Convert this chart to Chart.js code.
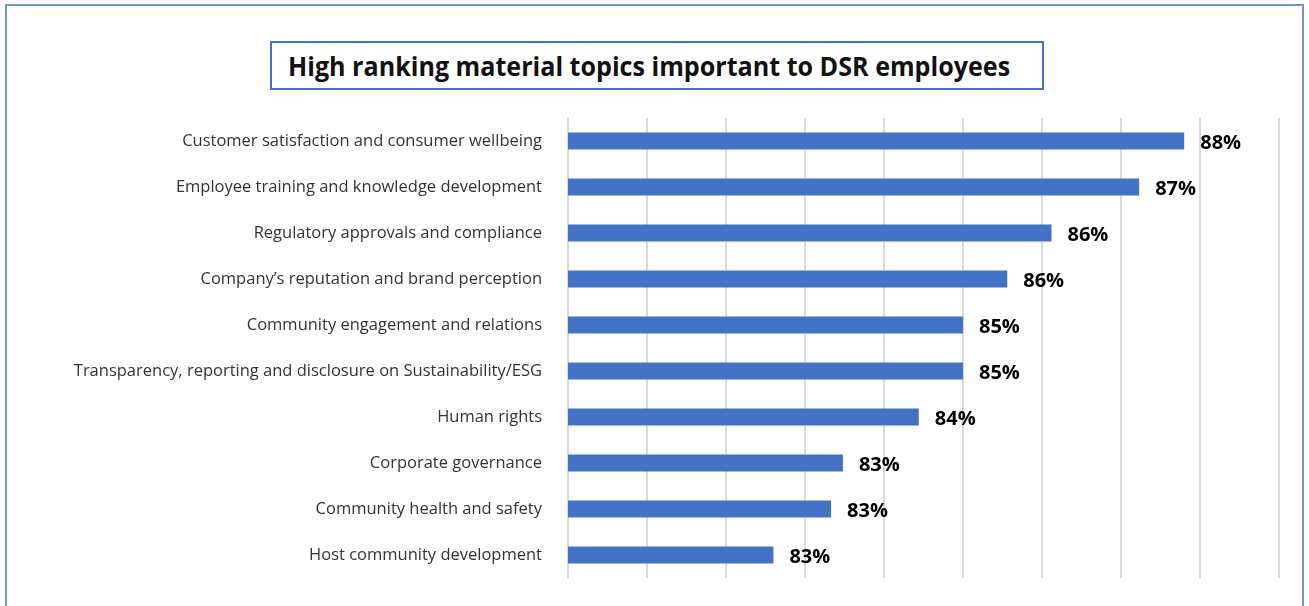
<!DOCTYPE html>
<html>
<head>
<meta charset="utf-8">
<script src="https://cdn.jsdelivr.net/npm/chart.js@4"></script>
<style>
  html, body { margin: 0; padding: 0; background: #fff; overflow: hidden; }
  #wrap { position: relative; width: 1309px; height: 606px; }
  #frame {
    position: absolute; left: 5px; top: 4px; width: 1299px; height: 700px;
    border: 2px solid #7394d4; box-sizing: border-box;
  }
  #title {
    position: absolute; left: 270px; top: 41px; width: 774px; height: 49px;
    border: 2px solid #4472c4; box-sizing: border-box;
  }
  #title span {
    position: absolute; left: 16px; top: 0;
    font-family: "Open Sans", sans-serif; font-weight: bold; font-size: 27px;
    color: #111; line-height: 45px; white-space: nowrap;
    transform: scaleX(0.93); transform-origin: left center;
  }
  canvas { position: absolute; left: 0; top: 0; }
</style>
</head>
<body>
<div id="wrap">
  <div id="frame"></div>
  <div id="title"><span>High ranking material topics important to DSR employees</span></div>
  <canvas id="topicsChart" width="1309" height="606"></canvas>
</div>
<script>
const topics = [
  'Customer satisfaction and consumer wellbeing',
  'Employee training and knowledge development',
  'Regulatory approvals and compliance',
  'Company\u2019s reputation and brand perception',
  'Community engagement and relations',
  'Transparency, reporting and disclosure on Sustainability/ESG',
  'Human rights',
  'Corporate governance',
  'Community health and safety',
  'Host community development'
];
const shares = [87.8, 87.23, 86.12, 85.56, 85.0, 85.0, 84.44, 83.48, 83.33, 82.6];
const axisMin = 80;
const axisMax = 89;

// percentage label at the end of each bar
const barLabels = {
  id: 'barLabels',
  afterDatasetsDraw(chart) {
    const ctx = chart.ctx;
    const meta = chart.getDatasetMeta(0);
    ctx.save();
    ctx.font = 'bold 20px "Open Sans", sans-serif';
    ctx.fillStyle = '#000';
    ctx.textBaseline = 'middle';
    ctx.textAlign = 'left';
    meta.data.forEach((bar, i) => {
      ctx.fillText(Math.round(shares[i]) + '%', bar.x + 16, bar.y + 2);
    });
    ctx.restore();
  }
};

new Chart(document.getElementById('topicsChart'), {
  type: 'bar',
  data: {
    labels: topics,
    datasets: [{
      data: shares,
      backgroundColor: '#4472c4',
      borderWidth: 0,
      barPercentage: 0.37,
      categoryPercentage: 1
    }]
  },
  options: {
    indexAxis: 'y',
    responsive: false,
    animation: false,
    layout: { padding: { top: 118, bottom: 18, right: 30, left: 0 } },
    plugins: {
      legend: { display: false },
      tooltip: { enabled: false }
    },
    scales: {
      x: {
        min: axisMin,
        max: axisMax,
        ticks: { display: false, stepSize: 1 },
        grid: { color: '#d9d9d9', lineWidth: 2, drawTicks: false },
        border: { display: false }
      },
      y: {
        afterFit(scale) { scale.width = 568; },
        ticks: {
          color: '#333333',
          padding: 18,
          font: { family: '"Open Sans", sans-serif', size: 16.5 }
        },
        grid: { display: false },
        border: { display: false }
      }
    }
  },
  plugins: [barLabels]
});
</script>
</body>
</html>
